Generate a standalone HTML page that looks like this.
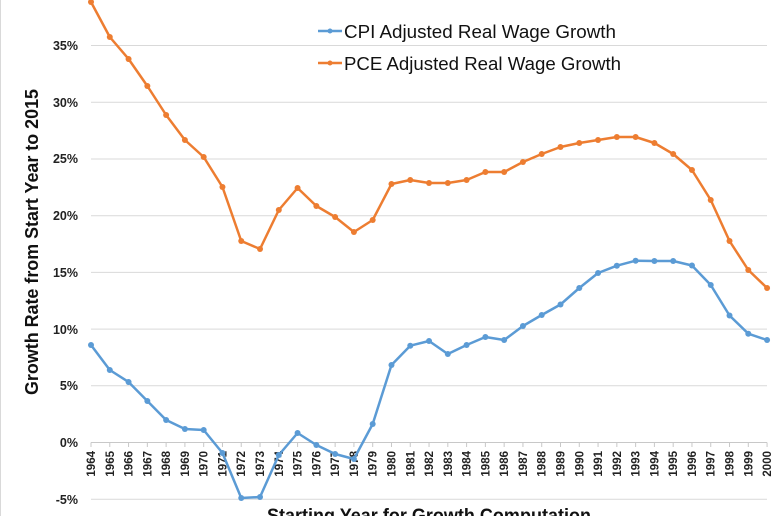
<!DOCTYPE html>
<html><head><style>body{margin:0;background:#fff}svg{display:block}</style></head><body>
<svg width="780" height="516" xmlns="http://www.w3.org/2000/svg" font-family="Liberation Sans, sans-serif">
<rect width="780" height="516" fill="#fff"/>
<line x1="0.5" y1="0" x2="0.5" y2="516" stroke="#d9d9d9"/>
<g stroke="#d9d9d9" stroke-width="1">
<line x1="91" y1="45.5" x2="767" y2="45.5"/>
<line x1="91" y1="102.3" x2="767" y2="102.3"/>
<line x1="91" y1="159" x2="767" y2="159"/>
<line x1="91" y1="215.7" x2="767" y2="215.7"/>
<line x1="91" y1="272.4" x2="767" y2="272.4"/>
<line x1="91" y1="329.1" x2="767" y2="329.1"/>
<line x1="91" y1="385.8" x2="767" y2="385.8"/>
<line x1="91" y1="499.2" x2="767" y2="499.2"/>
<line x1="91" y1="442.5" x2="767" y2="442.5" stroke="#c8c8c8"/>
</g>
<g font-size="12.5" font-weight="bold" fill="#222" text-anchor="end">
<text x="78" y="50">35%</text><text x="78" y="107">30%</text><text x="78" y="163">25%</text>
<text x="78" y="220">20%</text><text x="78" y="277">15%</text><text x="78" y="334">10%</text>
<text x="78" y="390">5%</text><text x="78" y="447">0%</text><text x="78" y="504">-5%</text>
</g>
<g id="yrs" font-size="11.5" font-weight="bold" fill="#222" text-anchor="end"></g>
<text transform="translate(38,242) rotate(-90)" font-size="18" font-weight="bold" text-anchor="middle" fill="#111" textLength="306" lengthAdjust="spacingAndGlyphs">Growth Rate from Start Year to 2015</text>
<text x="429" y="522" font-size="19" font-weight="bold" text-anchor="middle" fill="#111" textLength="324" lengthAdjust="spacingAndGlyphs">Starting Year for Growth Computation</text>
<g id="s"></g>
<line x1="318" y1="31" x2="342" y2="31" stroke="#5b9bd5" stroke-width="2.5"/><circle cx="330" cy="31" r="2.5" fill="#5b9bd5"/>
<line x1="318" y1="63" x2="342" y2="63" stroke="#ed7d31" stroke-width="2.5"/><circle cx="330" cy="63" r="2.5" fill="#ed7d31"/>
<text x="344" y="38" font-size="18" fill="#111" textLength="272" lengthAdjust="spacingAndGlyphs">CPI Adjusted Real Wage Growth</text>
<text x="344" y="70" font-size="18" fill="#111" textLength="277" lengthAdjust="spacingAndGlyphs">PCE Adjusted Real Wage Growth</text>
</svg>
<script>
var ns="http://www.w3.org/2000/svg";
var cpi=[345,370,382,401,420,429,430,453,498,497,455,433,445,454,459,424,365,345.7,341,354,345,337,340,326,315,304.5,288,273,265.7,260.7,261,261,265.5,285,315.5,333.7,340];
var pce=[2,37,59,86,115,140,157,187,241,249,210,188,206,217,232,220,184,180,183,183,180,172,172,162,154,147,143,140,137,137,143,154,170,200,241,270,288];
var yg=document.getElementById("yrs"),sg=document.getElementById("s");
function X(i){return 91+i*18.78;}
for(var i=0;i<37;i++){var t=document.createElementNS(ns,"text");t.setAttribute("transform","translate("+(X(i)+4)+",451) rotate(-90)");t.textContent=1964+i;yg.appendChild(t);
var l=document.createElementNS(ns,"line");l.setAttribute("x1",X(i));l.setAttribute("x2",X(i));l.setAttribute("y1",442.5);l.setAttribute("y2",447);l.setAttribute("stroke","#c8c8c8");yg.appendChild(l);}
function draw(d,c){var p=document.createElementNS(ns,"polyline");p.setAttribute("points",d.map(function(v,i){return X(i)+","+v}).join(" "));p.setAttribute("fill","none");p.setAttribute("stroke",c);p.setAttribute("stroke-width","2.5");p.setAttribute("stroke-linejoin","round");sg.appendChild(p);
d.forEach(function(v,i){var q=document.createElementNS(ns,"circle");q.setAttribute("cx",X(i));q.setAttribute("cy",v);q.setAttribute("r","3");q.setAttribute("fill",c);sg.appendChild(q);});}
draw(cpi,"#5b9bd5");draw(pce,"#ed7d31");
</script>
</body></html>
